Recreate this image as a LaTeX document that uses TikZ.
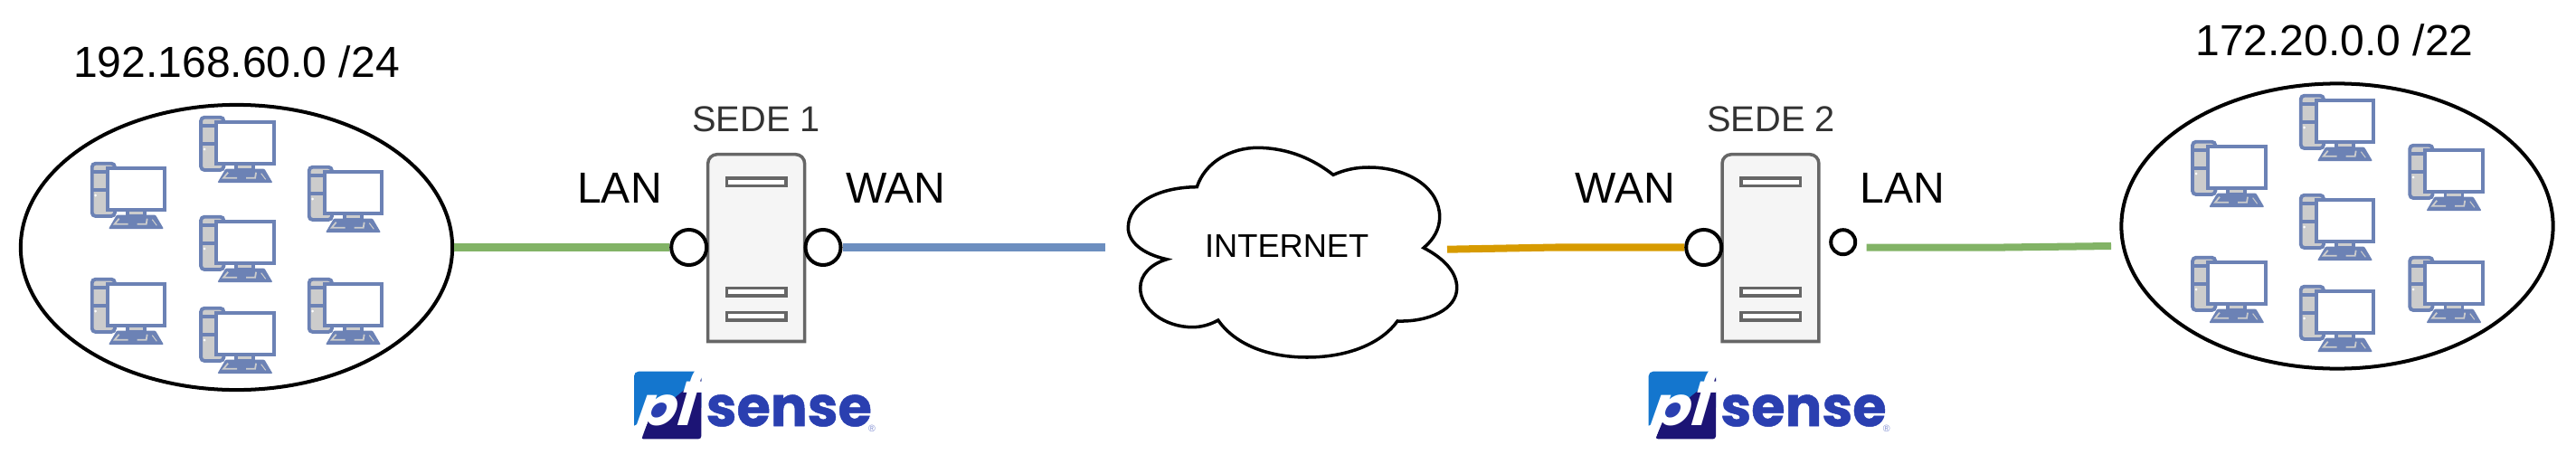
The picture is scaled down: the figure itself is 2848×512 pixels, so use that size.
\documentclass[tikz,border=0pt]{standalone}
\usepackage{fontspec}
\usepackage{xcolor}
\usetikzlibrary{shapes.geometric}
\setmainfont{Liberation Sans}
\newfontfamily\logofont{Poppins}
\newfontfamily\logoword[FakeBold=0.8]{Poppins}

\definecolor{pcblue}{HTML}{6C82B5}
\definecolor{pcgrey}{HTML}{CCCCCC}
\definecolor{boxgrey}{HTML}{666666}
\definecolor{boxfill}{HTML}{F5F5F5}
\definecolor{lanlink}{HTML}{82B366}
\definecolor{wanlink}{HTML}{6C8EBF}
\definecolor{netlink}{HTML}{D79B00}
\definecolor{logolight}{HTML}{1476CE}
\definecolor{logodark}{HTML}{1C1475}
\definecolor{logotext}{HTML}{2A3FB0}

\tikzset{
	bigtext/.style={anchor=base, inner sep=0pt, font=\fontsize{13.66}{16}\selectfont},
	sedetext/.style={anchor=base, inner sep=0pt, text=black!80, font=\fontsize{11.3}{14}\selectfont},
	nettext/.style={anchor=base, inner sep=0pt, font=\fontsize{10.3}{12}\selectfont},
	site/.style={draw, ellipse, line width=1.14pt, minimum width=4.77cm, minimum height=3.15cm, inner sep=0pt},
	port/.style={draw, circle, fill=white, line width=1.14pt, inner sep=0pt, minimum size=0.39cm},
	smallport/.style={port, minimum size=0.27cm},
	link/.style={line width=2.28pt},
	pc/.pic={
		% tower
		\draw[pcblue, fill=pcgrey, line width=1.1pt, rounded corners=0.04cm] (1.7,1.7) rectangle (27,60);
		\draw[pcblue, line width=1.1pt] (1.7,11) -- (27,11);
		\draw[pcblue, line width=1.1pt] (1.7,31) -- (27,31);
		\fill[white] (5.7,37) circle (0.015cm);
		% stand
		\draw[pcblue, fill=pcgrey, line width=1.1pt] (41,52) rectangle (60,60);
		% monitor
		\draw[pcblue, fill=white, line width=1.1pt] (18.7,7) rectangle (82.3,53);
		% keyboard
		\fill[pcblue, rounded corners=0.01cm] (29,58.7) -- (72,58.7) -- (81,74) -- (20,74) -- cycle;
		\draw[pcgrey, line width=0.5pt] (31.7,62.7) -- (26.7,68.7) -- (41.7,68.7);
		\draw[pcgrey, line width=0.5pt] (62.7,62.7) -- (61.7,68.7) -- (51.7,68.7);
		\draw[pcgrey, line width=0.3pt] (68.3,63.7) -- (73.3,70.3);
	},
	server/.pic={
		\draw[boxgrey, fill=boxfill, line width=1pt] (1.7,208.5) [rounded corners=0.1cm] -- (1.7,1.7) -- (108.6,1.7) [sharp corners] -- (108.6,208.5) -- cycle;
		% slots
		\draw[boxgrey, fill=white, line width=1pt] (22.5,28) rectangle (88,36.5);
		\draw[boxgrey, fill=white, line width=1pt] (22.5,149.5) rectangle (88,158);
		\draw[boxgrey, fill=white, line width=1pt] (22.5,176.5) rectangle (88,185);
	},
	pfsense/.pic={
		\fill[logolight] (0,60) [rounded corners=0.05cm] -- (0,0) -- (74.3,0) [sharp corners] -- (74.3,40) -- (20,50) -- cycle;
		\fill[logodark, rounded corners=0.03cm] (74.3,5) -- (74.3,74.6) -- (7.3,74.6) -- (17,52) -- cycle;
		\fill[logotext] (27.9,42.6) ellipse (0.105cm and 0.095cm);
		\node[anchor=base west, inner sep=0pt, text=white, xscale=1.08, xslant=0.15, transform shape, font=\logofont\fontsize{17}{24}\selectfont\bfseries\itshape] (pf) at (1.5,59.3) {p\scalebox{1}[1.45]{f}};
		\node[anchor=base west, inner sep=0pt, text=logotext, xscale=0.985, transform shape, font=\logoword\fontsize{17.5}{20}\selectfont\bfseries] (word) at (79,60.5) {sense};
		\node[inner sep=0pt, text=logotext!60, font=\fontsize{3}{3}\selectfont] (mark) at (263,63.3) {®};
	}
}

\begin{document}
\begin{tikzpicture}[x=0.01cm, y=-0.01cm]
	\useasboundingbox (0,0) rectangle (2848,512);

	% left network
	\node[site] (site1) at (261.5,273.5) {};
	\node[bigtext] (net1) at (261.5,85) {192.168.60.0 /24};
	\pic at (100,179) {pc};
	\pic at (220.4,128) {pc};
	\pic at (340,183) {pc};
	\pic at (220.4,238) {pc};
	\pic at (100,307) {pc};
	\pic at (220.4,339) {pc};
	\pic at (340,307) {pc};

	% right network
	\node[site] (site2) at (2584,250) {};
	\node[bigtext] (net2) at (2581,61) {172.20.0.0 /22};
	\pic at (2422.3,155) {pc};
	\pic at (2542,104) {pc};
	\pic at (2662.5,159) {pc};
	\pic at (2542,214) {pc};
	\pic at (2422.3,283) {pc};
	\pic at (2542,315) {pc};
	\pic at (2662.5,283) {pc};

	% servers
	\pic at (781,169) {server};
	\pic at (1902.3,169) {server};
	\node[sedetext] (sede1) at (836,145.7) {SEDE 1};
	\node[sedetext] (sede2) at (1958,145.7) {SEDE 2};

	% logos
	\pic (logoa) at (701,410.7) {pfsense};
	\pic (logob) at (1822.7,410.7) {pfsense};

	% cloud
	\draw[line width=1pt, fill=white] (1323.3,206.7)
		.. controls (1332,180) and (1360,163) .. (1391.7,163.3)
		.. controls (1425,164) and (1452,176) .. (1474,193.3)
		.. controls (1486,188) and (1498,185) .. (1513.3,185)
		.. controls (1557,185) and (1591.7,208) .. (1591.7,240)
		.. controls (1591.7,253) and (1585,265) .. (1574,274)
		.. controls (1595,285) and (1610.7,300) .. (1610.7,318.3)
		.. controls (1610.7,342) and (1580,356) .. (1545,355)
		.. controls (1527,380) and (1490,395) .. (1445,395)
		.. controls (1400,395) and (1365,380) .. (1346.7,354)
		.. controls (1338,359) and (1328,361.7) .. (1318.3,361.7)
		.. controls (1288,361.7) and (1260.7,342) .. (1260.7,318.3)
		.. controls (1260.7,304) and (1272,292) .. (1290,286.7)
		.. controls (1264,281) and (1247.3,268) .. (1247.3,251.7)
		.. controls (1247.3,225) and (1280,207) .. (1323.3,206.7) -- cycle;
	\node[nettext] (inet) at (1422.7,284) {INTERNET};

	% ports
	\node[port] (lan1) at (761.7,273.5) {};
	\node[port] (wan1) at (910,273.5) {};
	\node[port] (wan2) at (1883.7,273.5) {};
	\node[smallport] (lan2) at (2037.7,267.7) {};

	% port labels
	\node[bigtext] (lanlabel1) at (685,224.7) {LAN};
	\node[bigtext] (wanlabel1) at (990.5,224.7) {WAN};
	\node[bigtext] (wanlabel2) at (1797,224.7) {WAN};
	\node[bigtext] (lanlabel2) at (2103,224.7) {LAN};

	% free ends of the links
	\coordinate (blueend) at (1222,273.5);
	\coordinate (orangeend) at (1600,275.7);
	\coordinate (orangemid) at (1720,273.5);
	\coordinate (greenstart) at (2063.7,273.7);
	\coordinate (greenmid) at (2200,273.7);
	\coordinate (greenend) at (2334,272);

	% links
	\draw[link, lanlink] (site1.east) -- (lan1.west);
	\draw[link, wanlink] (wan1.east) -- (blueend);
	\draw[link, netlink] (orangeend) -- (orangemid) -- (wan2.west);
	\draw[link, lanlink] (greenstart) -- (greenmid) -- (greenend);
\end{tikzpicture}
\end{document}
